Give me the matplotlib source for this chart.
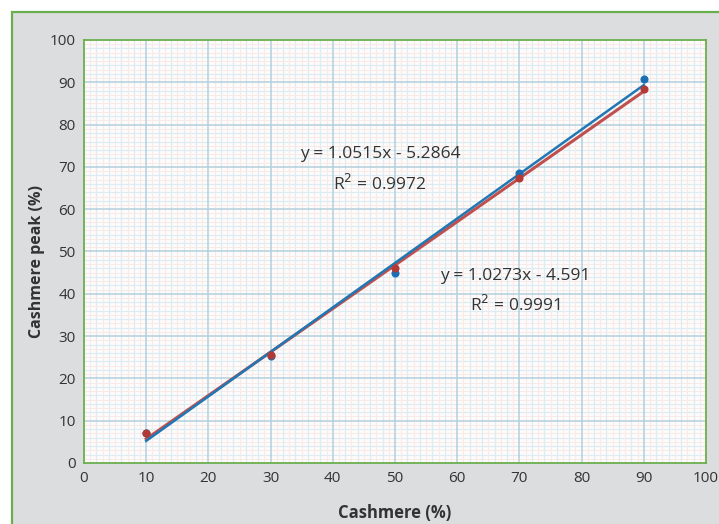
import matplotlib.pyplot as plt
from matplotlib.patches import Rectangle
import numpy as np

plt.rcParams['font.family'] = ['Open Sans', 'DejaVu Sans']

# cashmere content of the blends and the measured peak share
cashmere = [10, 30, 50, 70, 90]
peak_blue = [7.0, 25.3, 44.8, 68.5, 90.8]
peak_red = [7.0, 25.5, 46.0, 67.3, 88.4]

# linear trend lines
fit_blue = (1.0515, -5.2864, 0.9972)
fit_red = (1.0273, -4.591, 0.9991)

x_ticks = list(range(0, 101, 10))
y_ticks = list(range(0, 101, 10))

W, H = 719, 524
fig = plt.figure(figsize=(W / 100, H / 100), dpi=100)
fig.patch.set_facecolor('white')

# grey panel with green frame
panel = Rectangle((12 / W, -0.05), 1.0, 1 - 12 / H + 0.05, transform=fig.transFigure,
                  facecolor='#dcdddf', edgecolor='#6aaf4e', linewidth=1.6, zorder=-1)
fig.patches.append(panel)

ax = fig.add_axes([84 / W, (H - 463) / H, (706 - 84) / W, (463 - 40) / H])
ax.set_facecolor('#fefbfa')
ax.set_xlim(0, 100)
ax.set_ylim(0, 100)

# graph paper grid
for v in np.arange(0, 101, 1):
    if v % 10 == 0:
        continue
    c, lw = ('#dcecf4', 0.9) if v % 2 == 0 else ('#f7ebe9', 0.8)
    ax.axvline(v, color=c, lw=lw, zorder=0)
    ax.axhline(v, color=c, lw=lw, zorder=0)
for v in x_ticks[1:-1]:
    ax.axvline(v, color='#b2d0de', lw=1.1, zorder=1)
for v in y_ticks[1:-1]:
    ax.axhline(v, color='#b2d0de', lw=1.1, zorder=1)

xs = np.array([cashmere[0], cashmere[-1]])
ax.plot(xs, fit_red[0] * xs + fit_red[1], color='#c0504d', lw=2.2, zorder=3)
ax.plot(xs, fit_blue[0] * xs + fit_blue[1], color='#1f77b4', lw=1.8, zorder=4)
ax.scatter(cashmere, peak_blue, s=34, color='#1a6fb5', zorder=5, linewidths=0)
ax.scatter(cashmere, peak_red, s=34, color='#b23a36', zorder=6, linewidths=0)

ax.set_xticks(x_ticks)
ax.set_yticks(y_ticks)
ax.tick_params(length=0, labelsize=11, labelcolor='#333333', pad=6)
for s in ax.spines.values():
    s.set_color('#6aaf4e')
    s.set_linewidth(1.3)

fig.text(395 / W, 1 - 513 / H, 'Cashmere (%)', ha='center', va='center',
         fontsize=12, fontweight='bold', color='#333333')
fig.text(37 / W, 1 - 261 / H, 'Cashmere peak (%)', ha='center', va='center',
         rotation=90, fontsize=11.5, fontweight='bold', color='#333333')

ax.text(47.6, 73.0, f'y = {fit_blue[0]}x - {abs(fit_blue[1])}', ha='center', va='center',
        fontsize=12.5, color='#333333', zorder=7)
ax.text(47.6, 66.0, f'R$^2$ = {fit_blue[2]}', ha='center', va='center',
        fontsize=12.5, color='#333333', zorder=7)
ax.text(69.3, 44.2, f'y = {fit_red[0]}x - {abs(fit_red[1])}', ha='center', va='center',
        fontsize=12.5, color='#333333', zorder=7)
ax.text(69.3, 37.4, f'R$^2$ = {fit_red[2]}', ha='center', va='center',
        fontsize=12.5, color='#333333', zorder=7)

fig.savefig('out.png', dpi=100, facecolor=fig.get_facecolor())
